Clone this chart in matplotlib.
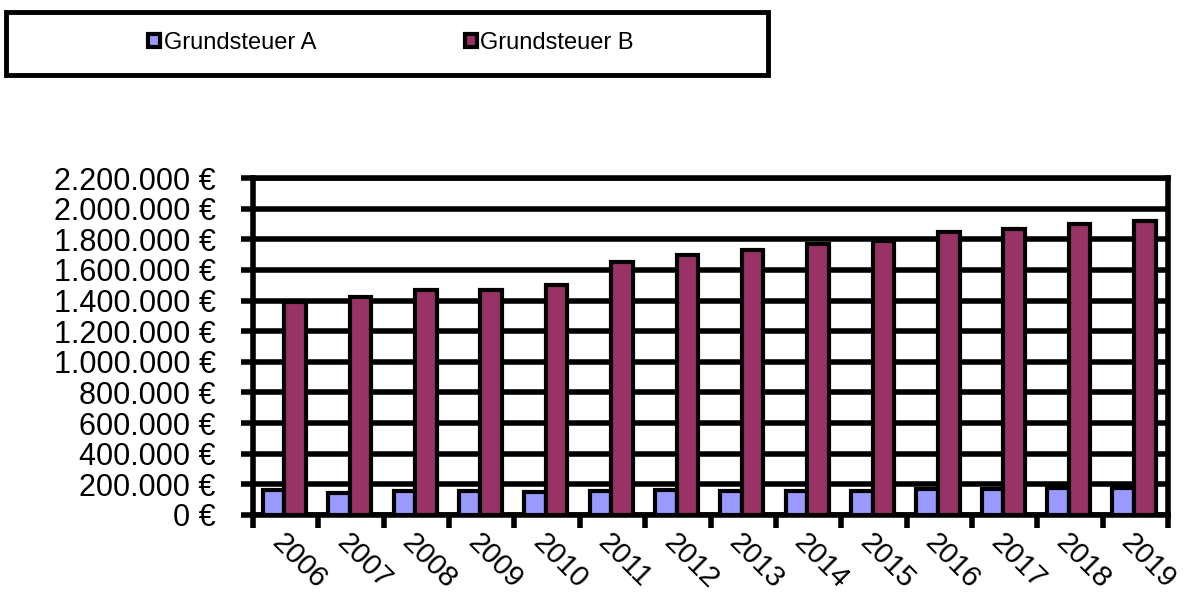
import matplotlib
matplotlib.use("Agg")
import matplotlib.pyplot as plt
from matplotlib.patches import Rectangle
from matplotlib.ticker import FuncFormatter, MultipleLocator
import numpy as np

plt.rcParams['font.family'] = ['Liberation Sans', 'DejaVu Sans']

years = ['2006', '2007', '2008', '2009', '2010', '2011', '2012', '2013',
         '2014', '2015', '2016', '2017', '2018', '2019']
grundsteuer_a = [160000, 145000, 155000, 155000, 150000, 158000, 160000, 158000,
                 158000, 158000, 172000, 172000, 175000, 178000]
grundsteuer_b = [1390000, 1420000, 1470000, 1470000, 1500000, 1650000, 1700000, 1730000,
                 1770000, 1790000, 1850000, 1870000, 1900000, 1920000]
series_names = ['Grundsteuer A', 'Grundsteuer B']
colors = ['#9999FF', '#993366']

fig = plt.figure(figsize=(11.9, 5.94), dpi=100)
ax = fig.add_axes([253/1190, 79/594, (1168-253)/1190, (515-178)/594])

x = np.arange(len(years))
w = 0.33
ax.bar(x - 0.185, grundsteuer_a, width=w, color=colors[0], edgecolor='black', linewidth=3, zorder=3)
ax.bar(x + 0.145, grundsteuer_b, width=w, color=colors[1], edgecolor='black', linewidth=3, zorder=3)

ax.set_xlim(-0.5, len(years) - 0.5)
ax.set_ylim(0, 2200000)
ax.yaxis.set_major_locator(MultipleLocator(200000))

def fmt(v, pos):
    s = f"{int(round(v)):,}".replace(",", ".")
    return f"{s} €"
ax.yaxis.set_major_formatter(FuncFormatter(fmt))
ax.grid(axis='y', color='black', linewidth=4, zorder=1)
for s in ax.spines.values():
    s.set_linewidth(4)
    s.set_color('black')

ax.tick_params(axis='y', labelsize=22, length=9, width=4, pad=18, direction='out')
ax.set_xticks(x)
ax.set_xticklabels(years, fontsize=21, rotation=-45, ha='left', va='top', rotation_mode='anchor')
ax.tick_params(axis='x', which='major', length=0, pad=10)
ax.set_xticks(np.arange(-0.5, len(years)), minor=True)
ax.tick_params(axis='x', which='minor', length=9, width=4, direction='out')

# legend box
fig.patches.append(Rectangle((6/1190, 1 - 75/594), (768-6)/1190, (75-12)/594,
                             transform=fig.transFigure, fill=False, edgecolor='black', linewidth=3.5))
handles = [Rectangle((0, 0), 1, 1, facecolor=c, edgecolor='black', linewidth=3) for c in colors]
fig.legend(handles, series_names, loc='center', bbox_to_anchor=(391/1190, 1 - 43/594),
           ncol=2, frameon=False, fontsize=17, handlelength=0.5, handleheight=0.5,
           handletextpad=0.15, columnspacing=6.3)

fig.savefig('out.png', dpi=100)
